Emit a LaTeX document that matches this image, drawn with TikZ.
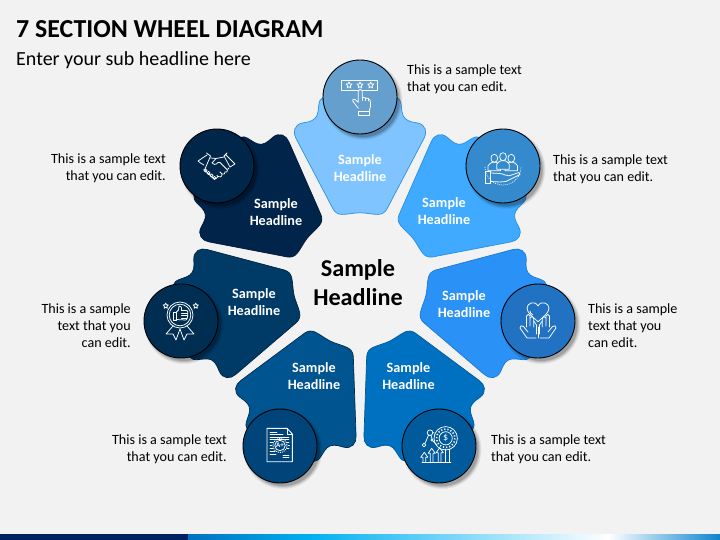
\documentclass[tikz,border=0pt]{standalone}
\usepackage{fontspec}
\setmainfont{Carlito}
\definecolor{bgc}{HTML}{F2F2F2}
\definecolor{barA}{HTML}{002060}\definecolor{barB}{HTML}{0070C0}\definecolor{barC}{HTML}{00B0F0}
\definecolor{barD}{HTML}{FFFFFF}\definecolor{barE}{HTML}{0D84CE}
\definecolor{fa}{HTML}{7FC4FF}\definecolor{la}{HTML}{2F8FE0}\definecolor{ca}{HTML}{659FCE}
\definecolor{fb}{HTML}{3FAAFF}\definecolor{lb}{HTML}{2A8FE0}\definecolor{cb}{HTML}{358ACD}
\definecolor{fc}{HTML}{2A92F7}\definecolor{lc}{HTML}{1F78D0}\definecolor{cc}{HTML}{2272C4}
\definecolor{fd}{HTML}{0070C0}\definecolor{ld}{HTML}{005A9C}\definecolor{cd}{HTML}{005A9C}
\definecolor{fe}{HTML}{00548F}\definecolor{le}{HTML}{002C50}\definecolor{ce}{HTML}{00447A}
\definecolor{ff}{HTML}{003A66}\definecolor{lf}{HTML}{002440}\definecolor{cf}{HTML}{002E52}
\definecolor{fg}{HTML}{00244A}\definecolor{lg}{HTML}{001A36}\definecolor{cg}{HTML}{00264A}
\tikzset{
  x=1pt,y=-1pt,
  ttl/.style={inner sep=0,anchor=base west,text=black},
  body/.style={inner sep=0,text=black,font=\fontsize{14.1}{17}\selectfont},
  head/.style={inner sep=0,text=white,align=center,font=\bfseries\fontsize{14.2}{17}\selectfont},
  disc/.style={circle,minimum size=74pt,inner sep=0,draw=black,line width=0.9pt},
  ic/.style={draw=white,line width=0.75pt,line join=round,line cap=round},
}
\newcommand{\sectionpath}{%
  (0,-67.6) .. controls (6,-67.6) and (12,-66) .. (18,-66)
  .. controls (22,-66) and (25,-68) .. (27,-71.5)
  -- (64,-142) .. controls (67.5,-148) and (66,-156) .. (57,-157.5)
  .. controls (50,-158.5) and (45,-160) .. (43,-165)
  .. controls (41,-170) and (42,-176) .. (40,-180)
  .. controls (38.5,-183) and (36,-184) .. (32,-184)
  -- (-32,-184) .. controls (-36,-184) and (-38.5,-183) .. (-40,-180)
  .. controls (-42,-176) and (-41,-170) .. (-43,-165)
  .. controls (-45,-160) and (-50,-158.5) .. (-57,-157.5)
  .. controls (-66,-156) and (-67.5,-148) .. (-64,-142)
  -- (-27,-71.5) .. controls (-25,-68) and (-22,-66) .. (-18,-66)
  .. controls (-12,-66) and (-6,-67.6) .. (0,-67.6) -- cycle}
% index, fill, outline
\newcommand{\wheelpart}[3]{%
  \begin{scope}[shift={(360,280.4)},rotate=-51.4286*#1]
    \draw[fill=#2,draw=#3,line width=.7pt] \sectionpath;
  \end{scope}}
% name, x, y, fill
\newcommand{\wheeldisc}[4]{%
  \foreach \rr/\oo in {39.5/.06,38.5/.08,37.5/.10,36.5/.14}
    \fill[black,opacity=\oo] (#2+3,#3+3.5) circle[radius=\rr];
  \node[disc,fill=#4] (#1) at (#2,#3) {};}
\newcommand{\starshape}[3]{% x y r
  \draw[ic] (#1,#2-#3) -- (#1+.3*#3,#2-.35*#3) -- (#1+#3,#2-.3*#3) -- (#1+.5*#3,#2+.2*#3) -- (#1+.6*#3,#2+#3)
   -- (#1,#2+.55*#3) -- (#1-.6*#3,#2+#3) -- (#1-.5*#3,#2+.2*#3) -- (#1-#3,#2-.3*#3) -- (#1-.3*#3,#2-.35*#3) -- cycle;}
\begin{document}
\begin{tikzpicture}
\useasboundingbox (0,0) rectangle (720,540);
\fill[bgc] (0,0) rectangle (720,540);
% bottom bar
\fill[barA] (0,534) rectangle (188,540);
\shade[left color=barB,right color=barC] (188,534) rectangle (310,540);
\shade[left color=barC,right color=barD] (310,534) rectangle (608,540);
\shade[left color=barD,right color=barE] (608,534) rectangle (720,540);
% title
\node[ttl,font=\bfseries\fontsize{25.9}{30}\selectfont] (title) at (16,37.3) {7 SECTION WHEEL DIAGRAM};
\node[ttl,font=\fontsize{20}{24}\selectfont] (sub) at (16,66) {Enter your sub headline here};
% sections
\wheelpart{0}{fa}{la}
\wheelpart{1}{fb}{lb}
\wheelpart{2}{fc}{lc}
\wheelpart{3}{fd}{ld}
\wheelpart{4}{fe}{le}
\wheelpart{5}{ff}{lf}
\wheelpart{6}{fg}{lg}
% discs
\wheeldisc{d1}{360}{97}{ca}
\wheeldisc{d2}{503}{166}{cb}
\wheeldisc{d3}{538}{321}{cc}
\wheeldisc{d4}{439}{446}{cd}
\wheeldisc{d5}{280}{446}{ce}
\wheeldisc{d6}{181}{321}{cf}
\wheeldisc{d7}{217}{166}{cg}
% section headings
\node[head] (h1) at (360,168.5) {Sample\\Headline};
\node[head] (h2) at (444,211.5) {Sample\\Headline};
\node[head] (h3) at (464,304.5) {Sample\\Headline};
\node[head] (h4) at (408.5,376.5) {Sample\\Headline};
\node[head] (h5) at (314,376.5) {Sample\\Headline};
\node[head] (h6) at (254,302.5) {Sample\\Headline};
\node[head] (h7) at (276,212.5) {Sample\\Headline};
\node[inner sep=0,align=center,text=black,font=\bfseries\fontsize{24.2}{29}\selectfont] (hub) at (358,282.5) {Sample\\Headline};
% body texts
\node[body,anchor=west,align=left] (t1) at (407,79.5) {This is a sample text\\that you can edit.};
\node[body,anchor=west,align=left] (t2) at (553,169.5) {This is a sample text\\that you can edit.};
\node[body,anchor=west,align=left] (t3) at (588,325.5) {This is a sample\\text that you\\can edit.};
\node[body,anchor=west,align=left] (t4) at (491,449.5) {This is a sample text\\that you can edit.};
\node[body,anchor=east,align=right] (t5) at (227,449.5) {This is a sample text\\that you can edit.};
\node[body,anchor=east,align=right] (t6) at (131,325.5) {This is a sample\\text that you\\can edit.};
\node[body,anchor=east,align=right] (t7) at (166,168.5) {This is a sample text\\that you can edit.};
% icon 1: rating
\begin{scope}[shift={(360,97)}]
  \draw[ic] (-18.3,-17) rectangle (17.7,-7);
  \starshape{-11}{-12}{3}\starshape{0}{-12}{3}\starshape{10.7}{-12}{3}
  \draw[ic,fill=ca] (-1.7,11.3) -- (-7.3,4) .. controls (-8,2.5) and (-6.5,1) .. (-5,2.5) -- (-1.7,5.3) -- (-1.7,-6)
    .. controls (-1.5,-8.5) and (2,-8.5) .. (2.3,-6) -- (2.3,0.3) -- (8,1.5) .. controls (10,2) and (10.5,3.5) .. (10.6,6) -- (10.6,9) -- (9.3,13.7);
  \draw[ic] (2.3,0.3) -- (2.3,3.5) (5,1) -- (5,3.5) (8,1.5) -- (8,4);
  \draw[ic] (-1.7,14.7) rectangle (9.3,18.7);
\end{scope}
% icon 2: team in hand
\begin{scope}[shift={(503,166)}]
  \draw[draw=white,line width=.8pt,dash pattern=on .8pt off 1.2pt] (-18,1) arc[start angle=180,end angle=0,radius=18];
  \foreach \px/\py in {-8.7/-7.7,8.3/-7.7,0/-9.3}{
    \draw[ic,fill=cb] (\px-6.2,\py+12.5) -- (\px-6.2,\py+7.5) .. controls (\px-6,\py+5.5) and (\px-3,\py+5) .. (\px-2,\py+4)
      -- (\px+2,\py+4) .. controls (\px+3,\py+5) and (\px+6,\py+5.5) .. (\px+6.2,\py+7.5) -- (\px+6.2,\py+12.5) -- cycle;
    \draw[ic,fill=cb] (\px,\py) ellipse[x radius=3.4,y radius=4];
  }
  \draw[ic] (-17.3,5.7) rectangle (-12.3,17.3);
  \draw[ic] (-12.3,7) -- (-3,7.5) .. controls (1,8) and (3,10) .. (6,9.8) -- (16,6.5) -- (17,8.5) -- (3,15.5) -- (-3,16) -- (-12.3,15.5);
\end{scope}
% icon 3: heart in hands
\begin{scope}[shift={(538,321)}]
  \draw[ic] (0,0.7) .. controls (-5,-4) and (-11,-8) .. (-11,-13) .. controls (-11,-18) and (-3,-21) .. (0,-15)
    .. controls (3,-21) and (11,-18) .. (11,-13) .. controls (11,-8) and (5,-4) .. (0,0.7) -- cycle;
  \draw[ic] (-8,-10) arc[start angle=180,end angle=110,radius=4];
  \foreach \s in {-1,1}{
    \draw[ic] (\s*2,17) -- (\s*11,17) -- (\s*18,7) .. controls (\s*18.5,5) and (\s*16,3.5) .. (\s*14.5,5.5) -- (\s*10,11);
    \draw[ic] (\s*11.5,6) -- (\s*11.5,-5) .. controls (\s*11,-7) and (\s*8.5,-7) .. (\s*8,-5) -- (\s*8,5);
    \draw[ic] (\s*8,-3) .. controls (\s*7.5,-5) and (\s*4.5,-5) .. (\s*4.3,-2) -- (\s*4.3,6);
    \draw[ic] (\s*4.3,0) -- (\s*1.5,4) -- (\s*1.5,13);
  }
  \draw[ic] (0,6) -- (0,17);
\end{scope}
% icon 4: money growth
\begin{scope}[shift={(439,446)}]
  \draw[ic] (6.7,-7.7) circle[radius=11.7];
  \draw[ic] (6.7,-7.7) circle[radius=6.6];
  \draw[draw=white,line width=1.6pt,dash pattern=on 1.2pt off 2pt] (6.7,-7.7) circle[radius=9.2];
  \node[inner sep=0,text=white,font=\fontsize{10}{10}\selectfont] (dollar) at (6.7,-7.7) {\$};
  \draw[ic] (-17,16.3) -- (12,16.3);
  \draw[ic] (6,3) -- (6,16.3) (10,3) -- (10,16.3);
  \foreach \ax/\ay in {-14.7/6.3,-7.3/2.3,0.7/1.7}{
    \draw[ic] (\ax-1.4,16.3) -- (\ax-1.4,\ay+5) -- (\ax-3.6,\ay+5) -- (\ax,\ay) -- (\ax+3.6,\ay+5) -- (\ax+1.4,\ay+5) -- (\ax+1.4,16.3);
  }
  \draw[ic] (-9,-13.3) circle[radius=2.8];
  \draw[ic] (-15,-1) circle[radius=1.8];
  \draw[ic] (-7,-6) circle[radius=1.2];
  \draw[ic] (-10.5,-10.8) -- (-14,-2.5) (-8,-10.8) -- (-7,-7.2) (-6.2,-13.3) -- (-5,-13.3) (-6,-5) -- (-2,-1);
\end{scope}
% icon 5: document
\begin{scope}[shift={(280,446)}]
  \draw[ic,line width=.9pt] (-13,-17.7) -- (7,-17.7) -- (12.3,-12) -- (12.3,15.7) -- (-13,15.7) -- cycle;
  \draw[ic] (7,-17.7) -- (7,-12) -- (12.3,-12);
  \draw[ic] (-10,-14) -- (-3,-14) (-10,-11.5) -- (3,-11.5) (-10,-9) -- (9,-9) (-10,-6.5) -- (9,-6.5)
     (-10,-4) -- (-7,-4) (7,-4) -- (9,-4) (-10,-1) -- (-8,-1) (8,-1) -- (9.5,-1) (-10,2) -- (-7,2) (7,2) -- (9,2)
     (-10,5) -- (-5,5) (-10,8) -- (-4,8) (3,9) -- (9,9) (3,11.5) -- (9,11.5);
  \draw[draw=white,line width=.9pt,dash pattern=on 1pt off 1pt] (0,-0.5) circle[radius=7];
  \draw[ic] (0,-0.5) circle[radius=5.2];
  \node[inner sep=0,text=white,font=\bfseries\fontsize{7}{7}\selectfont] (grade) at (0,-0.5) {A+};
\end{scope}
% icon 6: award badge
\begin{scope}[shift={(181,321)}]
  \draw[ic] (-1,-6) circle[radius=13];
  \draw[ic] (-1,-6) circle[radius=10.8];
  \draw[ic] (-8,-9) rectangle (-5,-1);
  \draw[ic] (-5,-8.5) -- (-2.5,-11) -- (-2,-15) .. controls (0,-15.5) and (1,-13.5) .. (0.5,-10.5) -- (6,-10.5)
     .. controls (7.5,-10) and (7,-2) .. (5,-1) -- (-5,-1.5);
  \draw[ic] (0.5,-8) -- (6.5,-8) (0.5,-5.5) -- (6.5,-5.5) (0.5,-3) -- (6,-3);
  \starshape{-15.3}{-15.3}{2.6}\starshape{14.7}{-15.3}{2.6}
  \draw[ic] (-8,5) -- (-15,13) -- (-8,13) -- (-5,19) -- (-1,8);
  \draw[ic] (6,5) -- (13,13) -- (6,13) -- (3,19) -- (-1,8);
\end{scope}
% icon 7: handshake
\begin{scope}[shift={(217,166)}]
  \draw[ic] (-19,-5) -- (-10,-11) (-10.5,-13) -- (-6.5,-10) -- (-12,3) (-19,-5) -- (-16.5,-3)
        (-16.5,-3) -- (-13,-1);
  \draw[ic] (18,-2) -- (9,-11) (10,-13) -- (7,-10) -- (13,1) (18,-2) -- (13,1);
  \draw[ic] (-6.5,-8) -- (-1,-7.5) -- (7,-9);
  \draw[ic] (-1,-7.5) -- (-5,-3) .. controls (-4,-1) and (-1,-1) .. (1,-3.5) -- (3,-3.5) -- (10.5,4) .. controls (11,6) and (9,7) .. (8,6);
  \draw[ic] (11,3) -- (12,2) (8,6) .. controls (8.5,8) and (6.5,9) .. (5,8) -- (3,6) (5,8) .. controls (5,11) and (3,12) .. (1,10.5) -- (0,9.5)
        (1,10.5) .. controls (0,13) and (-2,13.5) .. (-4,12) -- (-13,3.5);
  \foreach \bx/\by in {-11.5/4.5,-8.5/7,-5.5/9.5,-2.5/12}
    \draw[ic] (\bx,\by) circle[radius=1.6];
\end{scope}
\end{tikzpicture}
\end{document}
